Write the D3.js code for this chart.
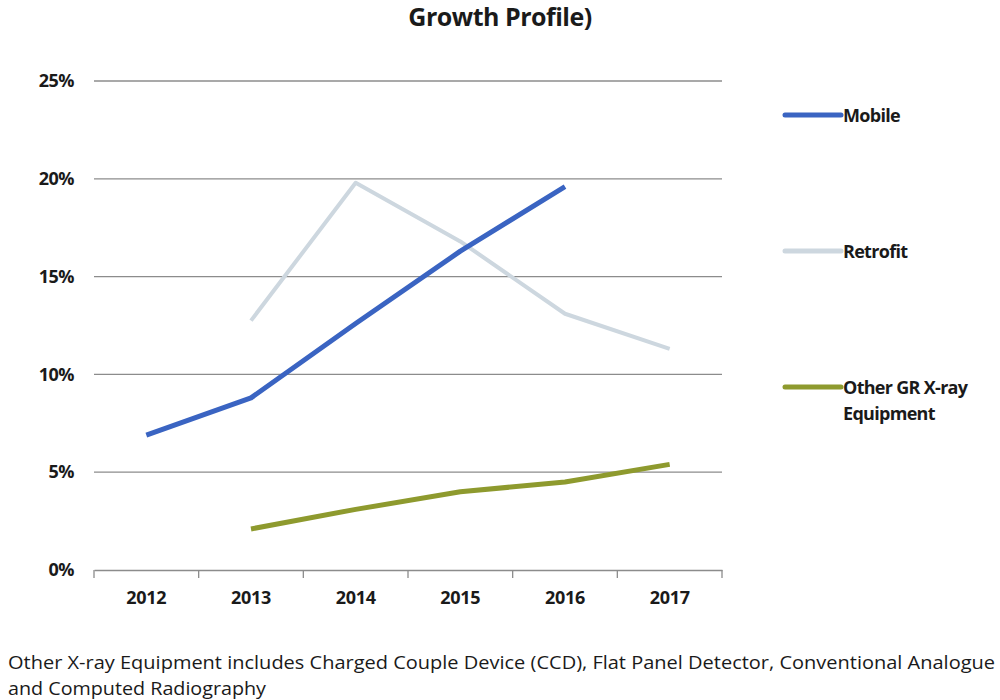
<!DOCTYPE html>
<html><head><meta charset="utf-8">
<script src="https://cdn.jsdelivr.net/npm/d3@7"></script>
<style>body{margin:0;background:#fff}svg{display:block}text{font-family:"Open Sans","Noto Sans",sans-serif}</style>
</head><body>
<svg id="c" width="1000" height="700"></svg>
<script>
const years = ["2012","2013","2014","2015","2016","2017"];
const mobile = [6.9, 8.8, 12.6, 16.3, 19.6, null];
const retrofit = [null, 12.75, 19.8, 16.8, 13.1, 11.3];
const other = [null, 2.1, 3.1, 4.0, 4.5, 5.4];
const yTicks = [0, 5, 10, 15, 20, 25];
const seriesNames = ["Mobile", "Retrofit", "Other GR X-ray|Equipment"];
const colors = ["#3a64c2", "#cdd7df", "#8e9a2e"];
const title = "Growth Profile)";
const footnote = ["Other X-ray Equipment includes Charged Couple Device (CCD), Flat Panel Detector, Conventional Analogue", "and Computed Radiography"];

const svg = d3.select("#c");
const x = d3.scaleBand().domain(years).range([94, 722]);
const y = d3.scaleLinear().domain([0, 25]).range([570, 81]);

svg.append("text").attr("x", 500).attr("y", 26).attr("text-anchor", "middle")
  .attr("font-size", 25).attr("font-weight", "bold").attr("fill", "#1a1a1a")
  .attr("letter-spacing", -0.5).text(title);

// gridlines
svg.append("g").selectAll("line").data(yTicks.filter(d => d > 0)).join("line")
  .attr("x1", 94).attr("x2", 722).attr("y1", d => y(d)).attr("y2", d => y(d))
  .attr("stroke", "#8c8c8c").attr("stroke-width", 1.3);

// y axis labels
const ya = svg.append("g").attr("transform", "translate(94,0)")
  .call(d3.axisLeft(y).tickValues(yTicks).tickFormat(d => d + "%").tickSize(0).tickPadding(20));
ya.select(".domain").remove();
ya.selectAll("text").attr("font-size", 18).attr("font-weight", "bold").attr("fill", "#1a1a1a")
  .attr("letter-spacing", -0.5).attr("font-family", "'Open Sans',sans-serif");

// x axis
const xa = svg.append("g").attr("transform", "translate(0,570)")
  .call(d3.axisBottom(x).tickSize(0).tickPadding(21));
xa.select(".domain").attr("stroke", "#8c8c8c").attr("stroke-width", 1.3);
xa.selectAll("text").attr("font-size", 18).attr("font-weight", "bold").attr("fill", "#1a1a1a")
  .attr("letter-spacing", -0.3).attr("font-family", "'Open Sans',sans-serif");
const bounds = years.map(d => x(d)).concat([x.range()[1]]);
svg.append("g").selectAll("line").data(bounds).join("line")
  .attr("x1", d => d).attr("x2", d => d).attr("y1", 570).attr("y2", 578)
  .attr("stroke", "#8c8c8c").attr("stroke-width", 1.3);

const data = [mobile, retrofit, other];
const line = d3.line().defined(d => d.v != null)
  .x(d => x(d.k) + x.bandwidth() / 2).y(d => y(d.v));
[1, 0, 2].forEach(i => {
  svg.append("path").datum(years.map((k, j) => ({k, v: data[i][j]})))
    .attr("d", line).attr("fill", "none").attr("stroke", colors[i])
    .attr("stroke-width", i === 1 ? 4 : 5).attr("stroke-linejoin", "round");
});

// legend
const legY = [115, 251, 387];
seriesNames.forEach((n, i) => {
  svg.append("line").attr("x1", 785).attr("x2", 841).attr("y1", legY[i]).attr("y2", legY[i])
    .attr("stroke", colors[i]).attr("stroke-width", 5).attr("stroke-linecap", "round");
  n.split("|").forEach((t, j) => {
    svg.append("text").attr("x", 843).attr("y", legY[i] + 7 + j * 26)
      .attr("font-size", 18).attr("font-weight", "bold").attr("fill", "#1a1a1a")
      .attr("letter-spacing", -0.7).text(t);
  });
});

// footnote
svg.append("text").attr("x", 8).attr("y", 669).attr("font-size", 18).attr("fill", "#1a1a1a")
  .attr("textLength", 987).attr("lengthAdjust", "spacingAndGlyphs").text(footnote[0]);
svg.append("text").attr("x", 8).attr("y", 695).attr("font-size", 18).attr("fill", "#1a1a1a")
  .attr("textLength", 258).attr("lengthAdjust", "spacingAndGlyphs").text(footnote[1]);
</script>
</body></html>
